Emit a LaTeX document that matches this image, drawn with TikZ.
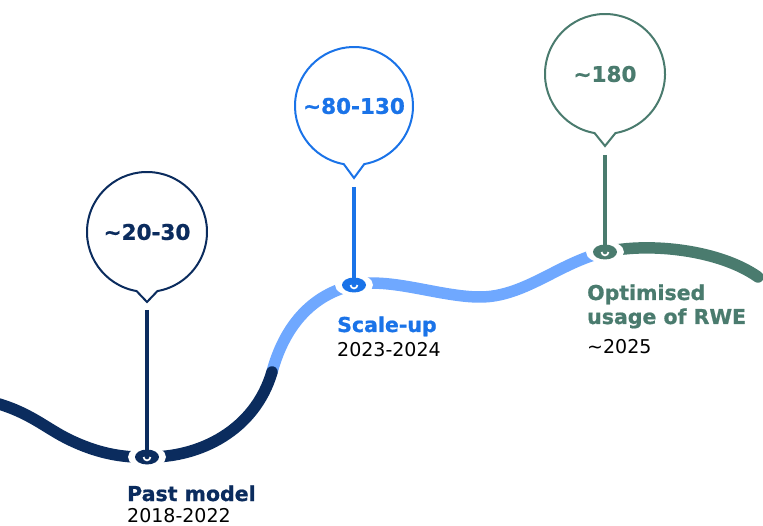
\documentclass[tikz,border=0pt]{standalone}
\usepackage{fontspec}
\setmainfont{DejaVu Sans}
\newfontfamily\heavyfont[FakeBold=0.9]{DejaVu Sans Bold}
\definecolor{navy}{HTML}{0B2C5E}
\definecolor{brightblue}{HTML}{1A73E8}
\definecolor{lightblue}{HTML}{6FA8FF}
\definecolor{rwegreen}{HTML}{4A7B6E}
\begin{document}
\begin{tikzpicture}[x=1pt,y=-1pt,
  track/.style={line width=11.5pt,line cap=round},
  bubble/.style={line width=2pt,fill=white,line join=miter},
  stem/.style={line width=3.6pt},
  numtext/.style={font=\heavyfont\fontsize{21.5}{24}\selectfont},
  lbl/.style={anchor=base west,inner sep=0pt,font=\heavyfont\fontsize{20.5}{24}\selectfont},
  yr/.style={anchor=base west,inner sep=0pt,font=\fontsize{19}{23}\selectfont}]
\useasboundingbox (0,0) rectangle (763,526);
% markers and bubbles
\coordinate (m1) at (147,457);
\coordinate (m2) at (354,285);
\coordinate (m3) at (605,252);
\coordinate (j1) at (272,372);
\coordinate (b1) at (147,232);
\coordinate (b2) at (354,106);
\coordinate (b3) at (605,74);
\coordinate (t1) at (147,302);
\coordinate (t2) at (354,178);
\coordinate (t3) at (605,146);
\coordinate (s1) at (147,310);
\coordinate (s2) at (354,187);
\coordinate (s3) at (605,155);
% track
\draw[track,lightblue] (j1) .. controls (282,335) and (305,296) .. (m2)
   .. controls (390,277) and (440,297) .. (480,297)
   .. controls (525,297) and (560,262) .. (m3);
\draw[track,rwegreen] (m3) .. controls (650,242) and (720,250) .. (758,277);
\draw[track,navy] (-8,402) .. controls (30,412) and (45,428) .. (70,440)
   .. controls (95,452) and (120,458) .. (m1)
   .. controls (200,458) and (255,430) .. (j1);
% marker halos and markers
\foreach \m/\c in {m1/navy,m2/brightblue,m3/rwegreen}{
  \fill[white] (\m) ellipse[x radius=19,y radius=11];
  \fill[\c] (\m) ellipse[x radius=12,y radius=7.5];
  \draw[white,line width=1.7pt] (\m) ++(-3.4,0) arc[start angle=180,end angle=0,radius=3.4];
}
% stems
\draw[stem,navy] (s1) -- (m1);
\draw[stem,brightblue] (s2) -- (m2);
\draw[stem,rwegreen,line width=4.2pt] (s3) -- (m3);
% bubbles
\draw[bubble,draw=navy] (b1) ++(100:60) arc[start angle=100,end angle=440,radius=60] -- (t1) -- cycle;
\draw[bubble,draw=brightblue] (b2) ++(100:59) arc[start angle=100,end angle=440,radius=59] -- (t2) -- cycle;
\draw[bubble,draw=rwegreen] (b3) ++(100:60) arc[start angle=100,end angle=440,radius=60] -- (t3) -- cycle;
\node[numtext,text=navy] (n1) at (b1) {\textasciitilde20-30};
\node[numtext,text=brightblue] (n2) at (b2) {\textasciitilde80-130};
\node[numtext,text=rwegreen] (n3) at (b3) {\textasciitilde180};
% labels
\node[lbl,text=navy] (l1) at (127,501) {Past model};
\node[yr] (y1) at (127,522) {2018-2022};
\node[lbl,text=brightblue] (l2) at (337,332) {Scale-up};
\node[yr] (y2) at (337,357) {2023-2024};
\node[lbl,text=rwegreen] (l3) at (587,300) {Optimised};
\node[lbl,text=rwegreen] (l3b) at (587,324) {usage of RWE};
\node[yr] (y3) at (587,354) {\textasciitilde2025};
\end{tikzpicture}
\end{document}
